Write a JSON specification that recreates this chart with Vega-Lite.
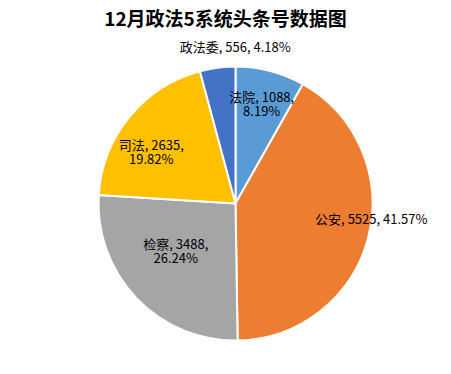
{
  "$schema": "https://vega.github.io/schema/vega-lite/v6.json",
  "width": 451,
  "height": 374,
  "autosize": {"type": "fit", "contains": "padding"},
  "padding": {"left": 20, "right": 0, "top": 11, "bottom": 0},
  "background": "white",
  "title": {
    "text": "12月政法5系统头条号数据图",
    "font": "Noto Sans CJK SC",
    "fontSize": 19,
    "fontWeight": "bold",
    "color": "#000000",
    "dx": -10,
    "offset": 3
  },
  "data": {
    "values": [
      {"name": "法院", "value": 1088, "ord": 1, "label": "法院, 1088,\n8.19%"},
      {"name": "公安", "value": 5525, "ord": 2, "label": "公安, 5525, 41.57%"},
      {"name": "检察", "value": 3488, "ord": 3, "label": "检察, 3488,\n26.24%"},
      {"name": "司法", "value": 2635, "ord": 4, "label": "司法, 2635,\n19.82%"},
      {"name": "政法委", "value": 556, "ord": 5, "label": "政法委, 556, 4.18%"}
    ]
  },
  "encoding": {
    "theta": {"field": "value", "type": "quantitative", "stack": true},
    "order": {"field": "ord", "type": "quantitative"}
  },
  "layer": [
    {
      "mark": {"type": "arc", "outerRadius": 137, "stroke": "white", "strokeWidth": 2},
      "encoding": {
        "color": {
          "field": "name",
          "type": "nominal",
          "scale": {
            "domain": ["法院", "公安", "检察", "司法", "政法委"],
            "range": ["#5B9BD5", "#ED7D31", "#A5A5A5", "#FFC000", "#4472C4"]
          },
          "legend": null
        }
      }
    },
    {
      "mark": {"type": "text", "radius": 103, "lineBreak": "\n", "font": "Noto Sans CJK SC", "fontSize": 13, "color": "#000000", "dx": 0, "dy": -6, "lineHeight": 14},
      "encoding": {
        "text": {"condition": {"test": "datum.name === '法院'", "field": "label"}, "value": ""}
      }
    },
    {
      "mark": {"type": "text", "radius": 136, "lineBreak": "\n", "font": "Noto Sans CJK SC", "fontSize": 13, "color": "#000000", "dy": -17, "dx": 4},
      "encoding": {
        "text": {"condition": {"test": "datum.name === '公安'", "field": "label"}, "value": ""}
      }
    },
    {
      "mark": {"type": "text", "radius": 77, "lineBreak": "\n", "font": "Noto Sans CJK SC", "fontSize": 13, "color": "#000000", "dx": -4, "dy": -12, "lineHeight": 14},
      "encoding": {
        "text": {"condition": {"test": "datum.name === '检察'", "field": "label"}, "value": ""}
      }
    },
    {
      "mark": {"type": "text", "radius": 92, "lineBreak": "\n", "font": "Noto Sans CJK SC", "fontSize": 13, "color": "#000000", "dx": -13, "dy": 1, "lineHeight": 14},
      "encoding": {
        "text": {"condition": {"test": "datum.name === '司法'", "field": "label"}, "value": ""}
      }
    },
    {
      "mark": {"type": "text", "radius": 155, "lineBreak": "\n", "font": "Noto Sans CJK SC", "fontSize": 13, "color": "#000000", "dx": 20, "dy": -2},
      "encoding": {
        "text": {"condition": {"test": "datum.name === '政法委'", "field": "label"}, "value": ""}
      }
    }
  ],
  "config": {"view": {"stroke": null}}
}
